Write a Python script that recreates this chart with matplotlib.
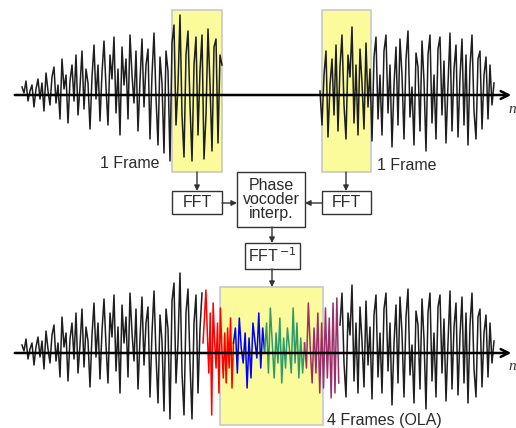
import numpy as np
import matplotlib.pyplot as plt
from matplotlib.patches import Rectangle

plt.rcParams['font.family'] = ['Liberation Sans', 'DejaVu Sans']

# signal samples (amplitude, one every 2 units along the drawing)
left_signal = [8, 2, 14, -6, 4, 10, -12, 6, 16, -4,
               12, -16, 22, 4, -10, 18, 28, -8, 10, -24,
               36, 6, 20, -28, 14, 30, -6, 40, -20, 8,
               44, -14, 26, 12, -34, 18, 50, -4, 30, -26,
               22, 54, 8, -30, 40, 16, 58, -18, 26, -40,
               48, 10, 36, -24, 60, 20, -8, 44, -36, 14,
               56, -12, 30, 46, -44, 20, 62, -2, -50, 38,
               12, -58, 44, 24, -66, 52, 70, -30, 10, 80,
               -20, -62, 40, 64, -10, -66, 30, 58, -40, 24,
               60, -64, -20, 66, 10, -56, 48, 56, -48, 40,
               30]
right_signal = [4, -30, 20, 44, -42, 10, 36, -20, 50, -36,
                28, 60, -10, -44, 40, 18, 68, -28, 30, -40,
                46, 12, -34, 52, -12, 26, -46, 38, 58, -24,
                20, -40, 44, 60, -18, 30, -52, 10, 48, -30,
                56, 20, -44, 36, 64, -22, 8, -50, 42, 28,
                -36, 54, 14, -56, 40, 60, -28, 20, -44, 46,
                58, -20, 34, -48, 10, 62, -36, 26, 50, -42,
                18, 56, -30, 40, -50, 28, 60, -16, -44, 36,
                44, -34, 20, 38, -24, 30, -10, 12]
ola_frames = [
    [10, 35, 63, 20, -20, 40, -62, 50, 12, -15, 30, -40, 45, 5, -25, 20, -30, 25, -15, 35, -35, 10],
    [10, 25, -20, 35, 5, -10, 20, -35, 15, -25, 30, 12, -5, 40, -15, 25, 0],
    [0, 30, -20, 45, 10, -25, 20, -10, 35, -30, 15, -15, 25, 5, -20, 45, -10, 30, -25, 15, -20, 10],
    [10, -15, 50, 5, -30, 25, -20, 40, -40, 30, -35, 45, -25, 35, -45, 50, -40, 55, -30],
]
frame_colors = ['#ff0000', '#0000ff', '#2e9a6a', '#9b2f6a']
frame_steps = [1.45, 1.95, 1.9, 1.9]

step = 2
left_x0, right_x0 = 22, 320
top_y, bot_y = 95, 353
wave_col = '#1e1e1e'
yellow = '#fbfb9c'
txt_col = '#2a2a2a'
fs = 11.5

fig = plt.figure(figsize=(5.16, 4.28), dpi=100)
ax = fig.add_axes([0, 0, 1, 1])
ax.set_xlim(0, 516)
ax.set_ylim(428, 0)
ax.axis('off')

# yellow analysis / synthesis windows
for x0, y0, w, h in [(172, 10, 50, 162), (322, 10, 49, 162), (220, 287, 103, 138)]:
    ax.add_patch(Rectangle((x0, y0), w, h, fc=yellow, ec='#c8c8c8', lw=1.2, zorder=1))

lx = left_x0 + step * np.arange(len(left_signal))
rx = right_x0 + step * np.arange(len(right_signal))
ly = np.array(left_signal)
ry = np.array(right_signal)

# top: original signal
ax.plot(lx, top_y - ly, color=wave_col, lw=1.1, zorder=2)
ax.plot(rx, top_y - ry, color=wave_col, lw=1.1, zorder=2)

# bottom: stretched signal with overlap-added frames
cut = 203
keep = lx <= cut
ax.plot(lx[keep], bot_y - ly[keep], color=wave_col, lw=1.1, zorder=2)
xs = cut
for vals, col, st in zip(ola_frames, frame_colors, frame_steps):
    fx = xs + st * np.arange(len(vals))
    ax.plot(fx, bot_y - np.array(vals), color=col, lw=1.1, zorder=3)
    xs = fx[-1]
keep = rx >= xs
ax.plot(rx[keep], bot_y - ry[keep], color=wave_col, lw=1.1, zorder=2)

# time axes
for y in (top_y, bot_y):
    ax.annotate('', xy=(514, y), xytext=(12, y),
                arrowprops=dict(arrowstyle='->', lw=1.8, color='black',
                                mutation_scale=14), zorder=4)
    ax.text(508, y + 14, 'n', fontsize=11, style='italic', family='Liberation Serif',
            ha='left', va='center', color='#333333')

ax.text(130, 164, '1 Frame', fontsize=fs, ha='center', va='center', color=txt_col)
ax.text(407, 166, '1 Frame', fontsize=fs, ha='center', va='center', color=txt_col)
ax.text(327, 420, '4 Frames (OLA)', fontsize=fs, ha='left', va='center', color=txt_col)

# processing blocks
def block(x0, y0, w, h, label):
    ax.add_patch(Rectangle((x0, y0), w, h, fc='white', ec='#333333', lw=1, zorder=4))
    ax.text(x0 + w / 2, y0 + h / 2, label, fontsize=fs, ha='center', va='center',
            linespacing=0.95, zorder=5, color=txt_col)

block(172, 191, 50, 23, 'FFT')
block(322, 191, 49, 23, 'FFT')
block(237, 172, 68, 55, 'Phase\nvocoder\ninterp.')
block(245, 243, 55, 26, 'FFT$^{\\,\\mathsf{-1}}$')

def arrow(x1, y1, x2, y2):
    ax.annotate('', xy=(x2, y2), xytext=(x1, y1),
                arrowprops=dict(arrowstyle='-|>', lw=1, color='#333333',
                                mutation_scale=8, shrinkA=0, shrinkB=0), zorder=5)

arrow(197, 172, 197, 191)
arrow(346, 172, 346, 191)
arrow(222, 203, 237, 203)
arrow(322, 203, 305, 203)
arrow(272, 227, 272, 243)
arrow(272, 269, 272, 287)

fig.savefig('out.png', dpi=100)
